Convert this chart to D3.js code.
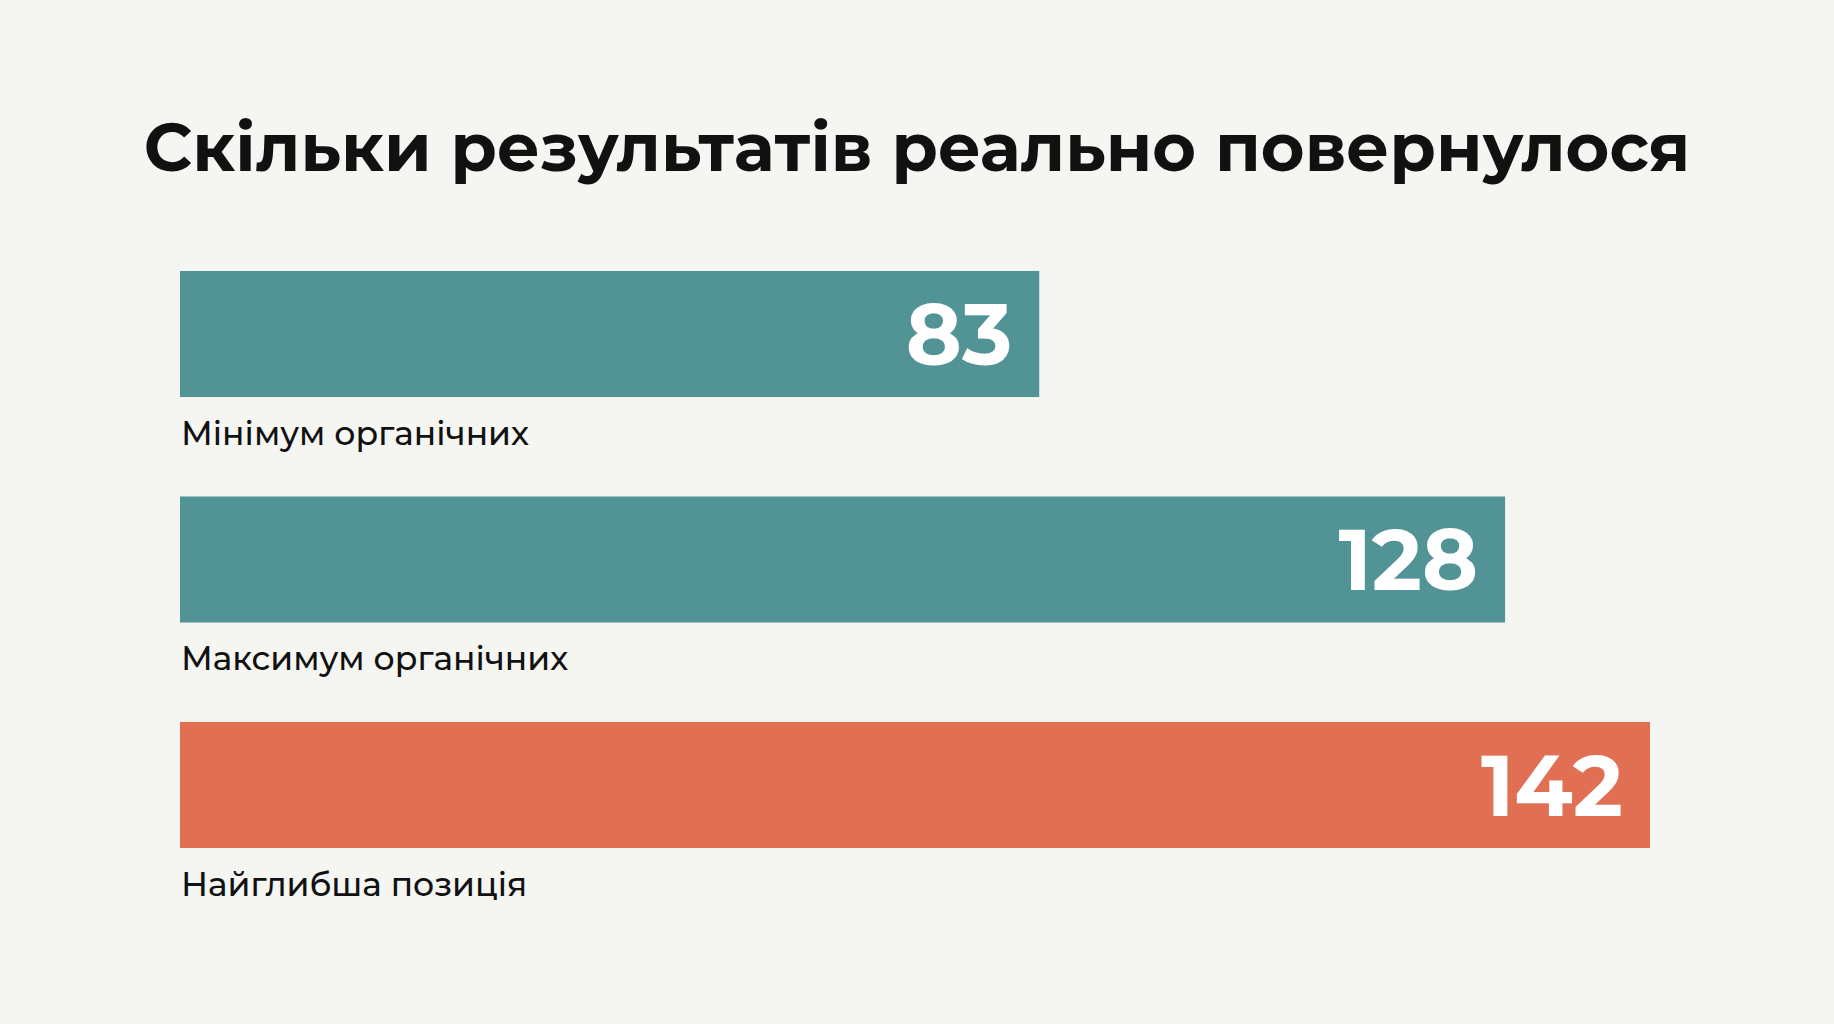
<!DOCTYPE html>
<html>
<head>
<meta charset="utf-8">
<script src="https://cdn.jsdelivr.net/npm/d3@7"></script>
<style>
  html, body { margin: 0; padding: 0; background: #f5f5f1; }
  svg { display: block; }
</style>
</head>
<body>
<div id="chart"></div>
<script>
// data
var categories = ["Мінімум органічних", "Максимум органічних", "Найглибша позиція"];
var values = [83, 128, 142];
var barColors = ["#529496", "#529496", "#e06f53"];
var title = "Скільки результатів реально повернулося";

var width = 1834,
    height = 1024,
    left = 180,
    fontFamily = "Montserrat, Inter, 'Noto Sans', sans-serif";

var svg = d3.select("#chart")
  .append("svg")
  .attr("width", width)
  .attr("height", height);

svg.append("rect")
  .attr("width", width)
  .attr("height", height)
  .style("fill", "#f5f5f1");

// title
svg.append("text")
  .attr("x", width / 2)
  .attr("y", 171)
  .attr("text-anchor", "middle")
  .text(title)
  .style("font-family", fontFamily)
  .style("font-size", "67px")
  .style("font-weight", "bold")
  .style("fill", "#111");

var x = d3.scaleLinear()
  .domain([0, d3.max(values)])
  .range([0, 1470]);

var y = d3.scaleBand()
  .domain(categories)
  .range([271, 848])
  .paddingInner(0.441)
  .paddingOuter(0);

var rows = svg.selectAll("g.row")
  .data(categories)
  .enter()
  .append("g")
  .attr("class", "row")
  .attr("transform", function(d) { return "translate(" + left + "," + y(d) + ")"; });

rows.append("rect")
  .attr("width", function(d, i) { return x(values[i]); })
  .attr("height", y.bandwidth())
  .style("fill", function(d, i) { return barColors[i]; });

// value inside the bar, right aligned
rows.append("text")
  .attr("x", function(d, i) { return x(values[i]) - 27; })
  .attr("y", y.bandwidth() / 2)
  .attr("dy", ".36em")
  .attr("text-anchor", "end")
  .text(function(d, i) { return values[i]; })
  .style("font-family", fontFamily)
  .style("font-size", "85px")
  .style("font-weight", "bold")
  .style("fill", "white");

// category under the bar
rows.append("text")
  .attr("x", 1)
  .attr("y", 174)
  .text(function(d) { return d; })
  .style("font-family", fontFamily)
  .style("font-size", "33px")
  .style("font-weight", 500)
  .style("fill", "#111");
</script>
</body>
</html>
